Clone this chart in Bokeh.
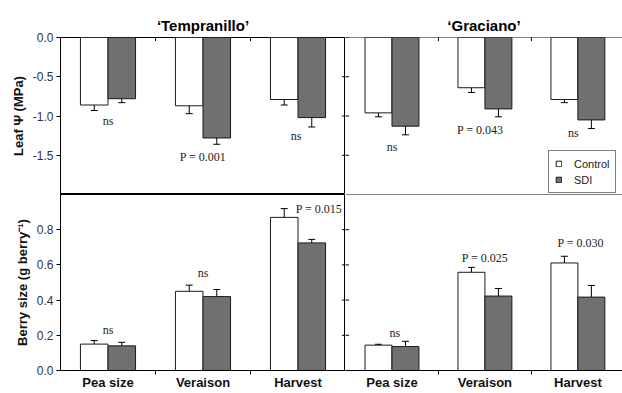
import numpy as np
from bokeh.plotting import figure
from bokeh.layouts import gridplot
from bokeh.models import (Range1d, FixedTicker, PrintfTickFormatter, Whisker, TeeHead,
                          ColumnDataSource, Legend, LegendItem, Span)
from bokeh.core.properties import value
from bokeh.embed import file_html
from bokeh.resources import INLINE

stages = ["Pea size", "Veraison", "Harvest"]
cultivars = ["\u2018Tempranillo\u2019", "\u2018Graciano\u2019"]
series = ["Control", "SDI"]

# Leaf water potential (MPa)
tem_leaf_ctrl = [-0.86, -0.87, -0.79]
tem_leaf_ctrl_err = [0.07, 0.10, 0.07]
tem_leaf_sdi = [-0.78, -1.28, -1.02]
tem_leaf_sdi_err = [0.05, 0.08, 0.12]
gra_leaf_ctrl = [-0.96, -0.64, -0.79]
gra_leaf_ctrl_err = [0.05, 0.06, 0.04]
gra_leaf_sdi = [-1.13, -0.91, -1.05]
gra_leaf_sdi_err = [0.11, 0.10, 0.11]

# Berry size (g berry-1)
tem_berry_ctrl = [0.15, 0.45, 0.87]
tem_berry_ctrl_err = [0.02, 0.035, 0.05]
tem_berry_sdi = [0.14, 0.42, 0.725]
tem_berry_sdi_err = [0.02, 0.04, 0.02]
gra_berry_ctrl = [0.144, 0.558, 0.611]
gra_berry_ctrl_err = [0.005, 0.028, 0.038]
gra_berry_sdi = [0.136, 0.423, 0.417]
gra_berry_sdi_err = [0.03, 0.043, 0.066]

# Significance labels (text, y value, offset in category units)
tem_leaf_sig = ["ns", "P = 0.001", "ns"]
tem_leaf_sig_y = [-1.07, -1.52, -1.26]
tem_leaf_sig_dx = [0.0, 0.0, -0.02]
gra_leaf_sig = ["ns", "P = 0.043", "ns"]
gra_leaf_sig_y = [-1.40, -1.18, -1.22]
gra_leaf_sig_dx = [0.0, -0.05, -0.05]
tem_berry_sig = ["ns", "ns", "P = 0.015"]
tem_berry_sig_y = [0.23, 0.553, 0.915]
tem_berry_sig_dx = [0.0, 0.0, 0.22]
gra_berry_sig = ["ns", "P = 0.025", "P = 0.030"]
gra_berry_sig_y = [0.213, 0.638, 0.723]
gra_berry_sig_dx = [0.03, 0.0, 0.03]

leaf_ticks = [-1.5, -1.0, -0.5, 0.0]
berry_ticks = [0.0, 0.2, 0.4, 0.6, 0.8]

SANS = "Liberation Sans"
SERIF = "Liberation Serif"
CTRL_FILL = "white"
SDI_FILL = "#707070"
BAR_W = 0.29

idx = np.arange(len(stages)) + 0.5
boundaries = [float(b) for b in np.arange(1, len(stages))]

leaf_range = Range1d(-2.0, 0.0)
berry_range = Range1d(0.0, 1.0)
left_x = Range1d(0.0, 3.0)
right_x = Range1d(0.0, 2.98)


def panel(ctrl, ctrl_err, sdi, sdi_err, sig, sig_y, sig_dx, x_range, y_range,
          width, height, negative, left, bottom, title=None, legend=False):
    p = figure(width=width, height=height, x_range=x_range, y_range=y_range,
               output_backend="svg", toolbar_location=None, min_border=0,
               x_axis_location="below" if bottom else None,
               y_axis_location="left" if left else None,
               title=title)
    p.background_fill_color = "white"
    p.border_fill_color = "white"
    p.xgrid.grid_line_color = None
    p.ygrid.grid_line_color = None
    yt = leaf_ticks if negative else berry_ticks
    if left:
        p.min_border_left = 60
        p.outline_line_color = "black"
        p.outline_line_width = 1
        divider_x = x_range.end
    else:
        p.outline_line_color = None
        # top and bottom frame lines for the right panels (right edge is cut off)
        p.add_layout(Span(location=y_range.end, dimension="width", line_color="black",
                          line_width=1))
        p.add_layout(Span(location=y_range.start, dimension="width", line_color="black",
                          line_width=1))
        divider_x = x_range.start
    # small inward ticks on the shared divider (half of each dash is clipped)
    p.scatter(x=[divider_x] * len(yt), y=yt, marker="dash", size=7,
              line_color="black", line_width=1)
    if title is not None:
        p.min_border_top = 37
        p.title.align = "center"
        p.title.text_font = SANS
        p.title.text_font_size = "15px"
        p.title.text_font_style = "bold"
        p.title.text_color = "black"
        p.title.standoff = 8
        # category boundary ticks on the top border
        p.scatter(x=boundaries, y=[y_range.end] * len(boundaries), marker="dash",
                  angle=np.pi / 2, size=7, line_color="black", line_width=1)

    xs = idx
    x_c = xs - BAR_W / 2
    x_s = xs + BAR_W / 2
    rc = p.vbar(x=x_c, top=ctrl, bottom=0, width=BAR_W, fill_color=CTRL_FILL,
                line_color="#1a1a1a", line_width=1)
    rs = p.vbar(x=x_s, top=sdi, bottom=0, width=BAR_W, fill_color=SDI_FILL,
                line_color="#1a1a1a", line_width=1)

    for xx, vals, errs in ((x_c, ctrl, ctrl_err), (x_s, sdi, sdi_err)):
        v = np.array(vals)
        e = np.array(errs)
        if negative:
            src = ColumnDataSource(dict(x=xx, lower=v - e, upper=v))
            w = Whisker(source=src, base="x", lower="lower", upper="upper",
                        line_color="black", line_width=1, level="annotation",
                        lower_head=TeeHead(size=7, line_color="black", line_width=1),
                        upper_head=None)
        else:
            src = ColumnDataSource(dict(x=xx, lower=v, upper=v + e))
            w = Whisker(source=src, base="x", lower="lower", upper="upper",
                        line_color="black", line_width=1, level="annotation",
                        upper_head=TeeHead(size=7, line_color="black", line_width=1),
                        lower_head=None)
        p.add_layout(w)

    p.text(x=xs + np.array(sig_dx), y=sig_y, text=sig, text_font=value(SERIF),
           text_font_size="12px", text_align="center", text_baseline="middle",
           text_color="#222222")

    if left:
        ax = p.yaxis[0]
        ax.ticker = FixedTicker(ticks=yt)
        ax.formatter = PrintfTickFormatter(format="%.1f")
        ax.major_tick_out = 4
        ax.major_tick_in = 0
        ax.minor_tick_line_color = None
        ax.axis_line_color = "black"
        ax.major_tick_line_color = "black"
        ax.major_label_text_font = SANS
        ax.major_label_text_font_size = "12px"
        ax.major_label_text_color = "#333333"
        ax.major_label_standoff = 3
        ax.axis_label = "Leaf \u03a8 (MPa)" if negative else "Berry size (g berry\u207b\u00b9)"
        ax.axis_label_text_font = SANS
        ax.axis_label_text_font_size = "13px"
        ax.axis_label_text_font_style = "bold"
        ax.axis_label_text_color = "#111111"
        ax.axis_label_standoff = 4

    if bottom:
        ax = p.xaxis[0]
        ax.ticker = FixedTicker(ticks=[float(t) for t in idx], minor_ticks=boundaries)
        ax.major_label_overrides = {float(t): s for t, s in zip(idx, stages)}
        ax.major_tick_line_color = None
        ax.major_tick_out = 0
        ax.major_tick_in = 0
        ax.minor_tick_out = 4
        ax.minor_tick_in = 0
        ax.minor_tick_line_color = "black"
        ax.axis_line_color = "black"
        ax.major_label_text_font = SANS
        ax.major_label_text_font_size = "13px"
        ax.major_label_text_font_style = "bold"
        ax.major_label_text_color = "#111111"
        ax.major_label_standoff = 0

    if legend:
        lg = Legend(items=[LegendItem(label=series[0], renderers=[rc]),
                           LegendItem(label=series[1], renderers=[rs])],
                    location=(203, 1))
        lg.glyph_width = 7
        lg.glyph_height = 7
        lg.label_height = 13
        lg.label_standoff = 12
        lg.spacing = 3
        lg.padding = 6
        lg.margin = 0
        lg.label_text_font = SANS
        lg.label_text_font_size = "11px"
        lg.label_text_color = "#222222"
        lg.border_line_color = "black"
        lg.border_line_width = 1
        lg.background_fill_color = "white"
        lg.background_fill_alpha = 1.0
        p.add_layout(lg)
    return p


tl = panel(tem_leaf_ctrl, tem_leaf_ctrl_err, tem_leaf_sdi, tem_leaf_sdi_err,
           tem_leaf_sig, tem_leaf_sig_y, tem_leaf_sig_dx, left_x, leaf_range,
           345, 194, True, True, False, title=cultivars[0])
tr = panel(gra_leaf_ctrl, gra_leaf_ctrl_err, gra_leaf_sdi, gra_leaf_sdi_err,
           gra_leaf_sig, gra_leaf_sig_y, gra_leaf_sig_dx, right_x, leaf_range,
           277, 194, True, False, False, title=cultivars[1], legend=True)
bl = panel(tem_berry_ctrl, tem_berry_ctrl_err, tem_berry_sdi, tem_berry_sdi_err,
           tem_berry_sig, tem_berry_sig_y, tem_berry_sig_dx, left_x, berry_range,
           345, 198, False, True, True)
br = panel(gra_berry_ctrl, gra_berry_ctrl_err, gra_berry_sdi, gra_berry_sdi_err,
           gra_berry_sig, gra_berry_sig_y, gra_berry_sig_dx, right_x, berry_range,
           277, 198, False, False, True)

grid = gridplot([[tl, tr], [bl, br]], toolbar_location=None)

open("out.html", "w").write(file_html(grid, INLINE))
